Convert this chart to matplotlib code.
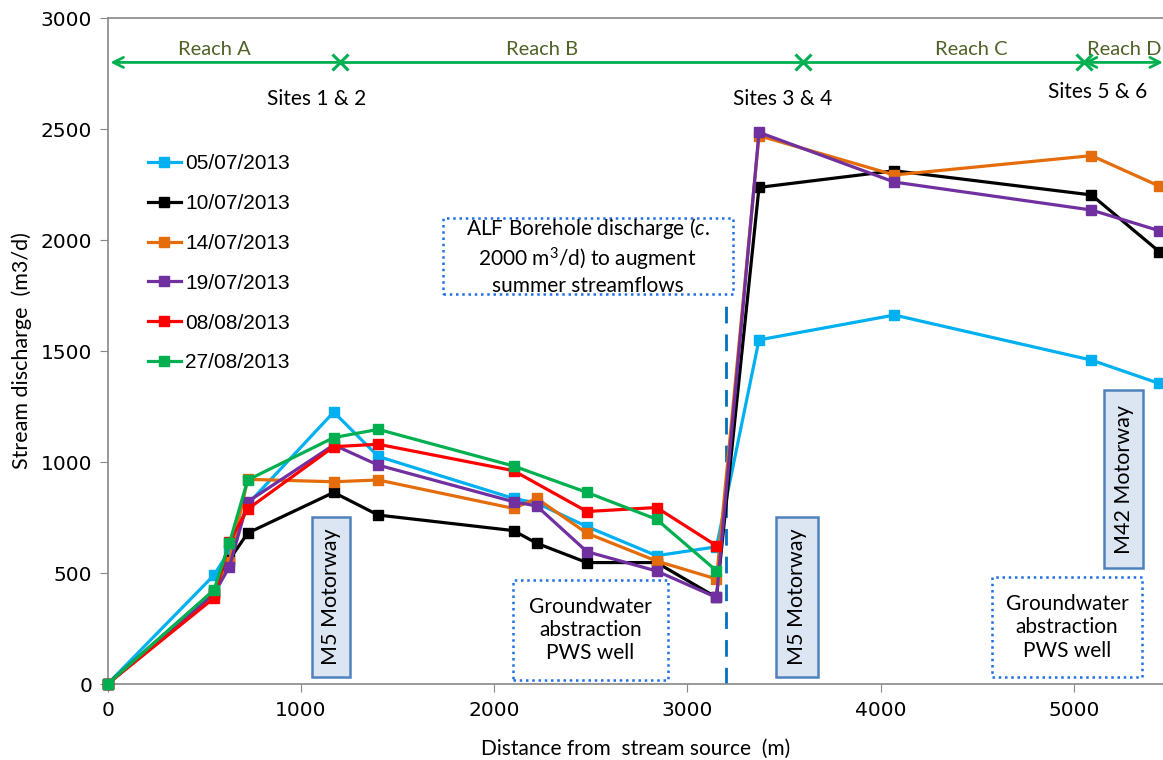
import matplotlib
matplotlib.use("Agg")
import matplotlib.pyplot as plt
from matplotlib.patches import Rectangle

# distances along the stream (m)
x_long = [0, 550, 630, 725, 1170, 1400, 2100, 2220, 2480, 2840, 3150, 3370, 4070, 5090, 5440]
x_short = [0, 550, 630, 725, 1170, 1400, 2100, 2480, 2840, 3150]

# stream discharge (m3/d) per survey date
q_0507 = [0, 490, 600, 810, 1225, 1025, 836, 815, 709, 578, 618, 1550, 1662, 1459, 1354]
q_1007 = [0, 420, 560, 680, 863, 761, 691, 634, 547, 547, 390, 2237, 2312, 2203, 1948]
q_1407 = [0, 410, 550, 922, 911, 919, 791, 836, 679, 554, 473, 2470, 2293, 2380, 2243]
q_1907 = [0, 405, 528, 821, 1077, 986, 821, 802, 596, 509, 390, 2485, 2261, 2135, 2042]
q_0808 = [0, 387, 640, 788, 1069, 1080, 961, 777, 795, 623]
q_2708 = [0, 423, 634, 919, 1110, 1147, 982, 863, 742, 510]

labels = ["05/07/2013", "10/07/2013", "14/07/2013", "19/07/2013", "08/08/2013", "27/08/2013"]
colors = ["#00b0f0", "#000000", "#e46c0a", "#7030a0", "#ff0000", "#00b050"]

# reach boundaries along the top
site_x = [1200, 3600, 5050]
reach_names = ["Reach A", "Reach B", "Reach C", "Reach D"]
reach_label_x = [554, 2250, 4467, 5262]

plt.rcParams["mathtext.fontset"] = "custom"
plt.rcParams["mathtext.rm"] = "Lato"
plt.rcParams["mathtext.it"] = "Lato:italic"

fig = plt.figure(figsize=(11.63, 7.6), dpi=100)
ax = fig.add_axes([0.0925, 0.1, 0.9075, 0.8763])

series = [(x_long, q_0507), (x_long, q_1007), (x_long, q_1407), (x_long, q_1907),
          (x_short, q_0808), (x_short, q_2708)]
for (xs, ys), lab, c in zip(series, labels, colors):
    ax.plot(xs, ys, color=c, lw=2.3, marker="s", ms=6.5, label=lab, clip_on=False, zorder=3)

ax.set_xlim(0, 5460)
ax.set_ylim(0, 3000)
ax.set_xticks([0, 1000, 2000, 3000, 4000, 5000])
ax.set_yticks([0, 500, 1000, 1500, 2000, 2500, 3000])
for s in ["left", "bottom", "top"]:
    ax.spines[s].set_color("#888888")
    ax.spines[s].set_linewidth(1.2)
ax.spines["right"].set_visible(False)
ax.tick_params(direction="out", length=6, color="#888888", labelsize=14.5, pad=5)
ax.tick_params(axis="x", pad=6)

ax.set_xlabel("Distance from  stream source  (m)", fontsize=15, family="Lato", labelpad=14)
ax.set_ylabel("Stream discharge  (m3/d)", fontsize=15.5, family="Lato", labelpad=6)

leg = ax.legend(loc="upper left", bbox_to_anchor=(0.030, 0.808), borderaxespad=0,
                frameon=False, handlelength=1.6, handletextpad=0.2, labelspacing=1.0,
                prop={"family": "Liberation Sans", "size": 15})

# reach arrows
green = "#00b050"
ax.annotate("", xy=(0, 2800), xytext=(site_x[0], 2800),
            arrowprops=dict(arrowstyle="->", color=green, lw=2, mutation_scale=18))
ax.plot([site_x[0], site_x[2]], [2800, 2800], color=green, lw=2)
ax.annotate("", xy=(5460, 2800), xytext=(site_x[2], 2800), annotation_clip=False,
            arrowprops=dict(arrowstyle="<->", color=green, lw=2, mutation_scale=18,
                            shrinkA=0, shrinkB=0))
ax.plot(site_x, [2800] * 3, linestyle="none", marker="x", ms=11, mew=2.2, color=green)
for name, rx in zip(reach_names, reach_label_x):
    ax.text(rx, 2822, name, ha="center", va="bottom", fontsize=14.5, color="#4f6228", family="Lato")

ax.text(1082, 2637, "Sites 1 & 2", ha="center", va="center", fontsize=15, family="Lato")
ax.text(3490, 2637, "Sites 3 & 4", ha="center", va="center", fontsize=15, family="Lato")
ax.text(5120, 2665, "Sites 5 & 6", ha="center", va="center", fontsize=15, family="Lato")

# borehole discharge point
ax.plot([3200, 3200], [0, 1740], color="#0070c0", lw=2, dashes=(6, 4), zorder=2)

# motorway boxes
for x0, x1, y0, y1, txt in [(1056, 1253, 32, 752, "M5 Motorway"),
                            (3457, 3675, 32, 752, "M5 Motorway"),
                            (5155, 5357, 522, 1324, "M42 Motorway")]:
    ax.add_patch(Rectangle((x0, y0), x1 - x0, y1 - y0, facecolor="#dce6f2",
                           edgecolor="#4f81bd", lw=1.8, zorder=4))
    ax.text((x0 + x1) / 2, (y0 + y1) / 2, txt, rotation=90, ha="center", va="center",
            fontsize=15.5, family="Lato", zorder=5)

# dotted annotation boxes
for x0, x1, y0, y1, txt in [
        (1734, 3235, 1755, 2100,
         "ALF Borehole discharge ($\\it{c}$.\n2000 m$^3$/d) to augment\nsummer streamflows"),
        (2096, 2898, 18, 468, "Groundwater\nabstraction\nPWS well"),
        (4575, 5352, 30, 480, "Groundwater\nabstraction\nPWS well")]:
    ax.add_patch(Rectangle((x0, y0), x1 - x0, y1 - y0, facecolor="white",
                           edgecolor="#1f6fe5", lw=1.8, linestyle=(0, (1, 1.5)), zorder=4))
    ax.text((x0 + x1) / 2, (y0 + y1) / 2, txt, ha="center", va="center", fontsize=15,
            family="Lato", linespacing=1.2, zorder=5)

fig.savefig("out.png", dpi=100)
